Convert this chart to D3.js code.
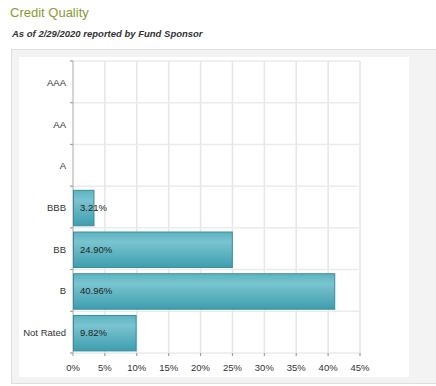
<!DOCTYPE html>
<html>
<head>
<meta charset="utf-8">
<script src="https://cdn.jsdelivr.net/npm/d3@7"></script>
<style>
  body { margin: 0; background: #fff; font-family: 'Liberation Sans', Arial, sans-serif; }
</style>
</head>
<body>
<div id="chart"></div>
<script>
// credit quality breakdown, % of fund
const categories = ['AAA', 'AA', 'A', 'BBB', 'BB', 'B', 'Not Rated'];
const values = [null, null, null, 3.21, 24.90, 40.96, 9.82];
const xTicks = [0, 5, 10, 15, 20, 25, 30, 35, 40, 45];

const W = 436, H = 386;
const plot = { left: 73, right: 360, top: 61, bottom: 353 };

const svg = d3.select('#chart').append('svg')
    .attr('width', W)
    .attr('height', H);

// header
svg.append('text')
    .attr('x', 10).attr('y', 17)
    .attr('font-size', '13px')
    .attr('fill', '#8a9a32')
    .text('Credit Quality');

svg.append('text')
    .attr('x', 12).attr('y', 37)
    .attr('font-size', '9.5px')
    .attr('font-weight', 'bold')
    .attr('font-style', 'italic')
    .attr('fill', '#333')
    .text('As of 2/29/2020 reported by Fund Sponsor');

// grey panel with white chart area
svg.append('rect')
    .attr('x', 11.5).attr('y', 49.5)
    .attr('width', 430).attr('height', 334)
    .attr('fill', '#f3f3f3')
    .attr('stroke', '#dedede');
svg.append('rect')
    .attr('x', 19).attr('y', 57)
    .attr('width', 390).attr('height', 320)
    .attr('fill', '#fff');

const defs = svg.append('defs');
const grad = defs.append('linearGradient')
    .attr('id', 'barGrad')
    .attr('x1', 0).attr('y1', 0).attr('x2', 0).attr('y2', 1);
grad.append('stop').attr('offset', '0%').attr('stop-color', '#5cb3c1');
grad.append('stop').attr('offset', '28%').attr('stop-color', '#7ac4d0');
grad.append('stop').attr('offset', '100%').attr('stop-color', '#3d9eae');

const x = d3.scaleLinear()
    .domain([0, 45])
    .range([plot.left, plot.right]);

const y = d3.scaleBand()
    .domain(categories)
    .range([plot.top, plot.bottom]);

const step = y.step();
const boundaries = d3.range(categories.length + 1).map(i => plot.top + i * step);

// gridlines
svg.append('g')
    .selectAll('line')
    .data(xTicks.slice(1))
    .enter()
    .append('line')
    .attr('x1', d => x(d)).attr('x2', d => x(d))
    .attr('y1', plot.top).attr('y2', plot.bottom + 3)
    .attr('stroke', '#e6e6e6')
    .attr('stroke-width', 1.5);

svg.append('g')
    .selectAll('line')
    .data(boundaries)
    .enter()
    .append('line')
    .attr('x1', plot.left - 3).attr('x2', plot.right)
    .attr('y1', d => d).attr('y2', d => d)
    .attr('stroke', '#ebebeb')
    .attr('stroke-width', 1.5);

// y tick marks at band edges
svg.append('g')
    .selectAll('line')
    .data(boundaries)
    .enter()
    .append('line')
    .attr('x1', plot.left - 3).attr('x2', plot.left)
    .attr('y1', d => d).attr('y2', d => d)
    .attr('stroke', '#999');

// x tick marks
svg.append('g')
    .selectAll('line')
    .data(xTicks)
    .enter()
    .append('line')
    .attr('x1', d => x(d)).attr('x2', d => x(d))
    .attr('y1', plot.bottom).attr('y2', plot.bottom + 3)
    .attr('stroke', '#999');

// axis line
svg.append('line')
    .attr('x1', plot.left).attr('x2', plot.left)
    .attr('y1', plot.top).attr('y2', plot.bottom)
    .attr('stroke', '#aaa');

const rows = categories.map((c, i) => ({ cat: c, value: values[i] }));

// bars
svg.append('g')
    .selectAll('rect')
    .data(rows.filter(d => d.value !== null))
    .enter()
    .append('rect')
    .attr('x', x(0) + 0.5)
    .attr('y', d => y(d.cat) + step * 0.1)
    .attr('width', d => x(d.value) - x(0))
    .attr('height', step * 0.85)
    .attr('fill', 'url(#barGrad)')
    .attr('stroke', '#3a8c99')
    .attr('stroke-width', 1);

svg.append('g')
    .selectAll('text')
    .data(rows.filter(d => d.value !== null))
    .enter()
    .append('text')
    .attr('x', x(0) + 7)
    .attr('y', d => y(d.cat) + step / 2 + 4)
    .attr('font-size', '9.5px')
    .attr('fill', '#222')
    .text(d => d.value.toFixed(2) + '%');

// category labels
svg.append('g')
    .selectAll('text')
    .data(categories)
    .enter()
    .append('text')
    .attr('x', plot.left - 7)
    .attr('y', d => y(d) + step / 2 + 4)
    .attr('text-anchor', 'end')
    .attr('font-size', '9.5px')
    .attr('fill', '#333')
    .text(d => d);

// x labels
svg.append('g')
    .selectAll('text')
    .data(xTicks)
    .enter()
    .append('text')
    .attr('x', d => x(d))
    .attr('y', plot.bottom + 18)
    .attr('text-anchor', 'middle')
    .attr('font-size', '9.5px')
    .attr('fill', '#333')
    .text(d => d + '%');
</script>
</body>
</html>
